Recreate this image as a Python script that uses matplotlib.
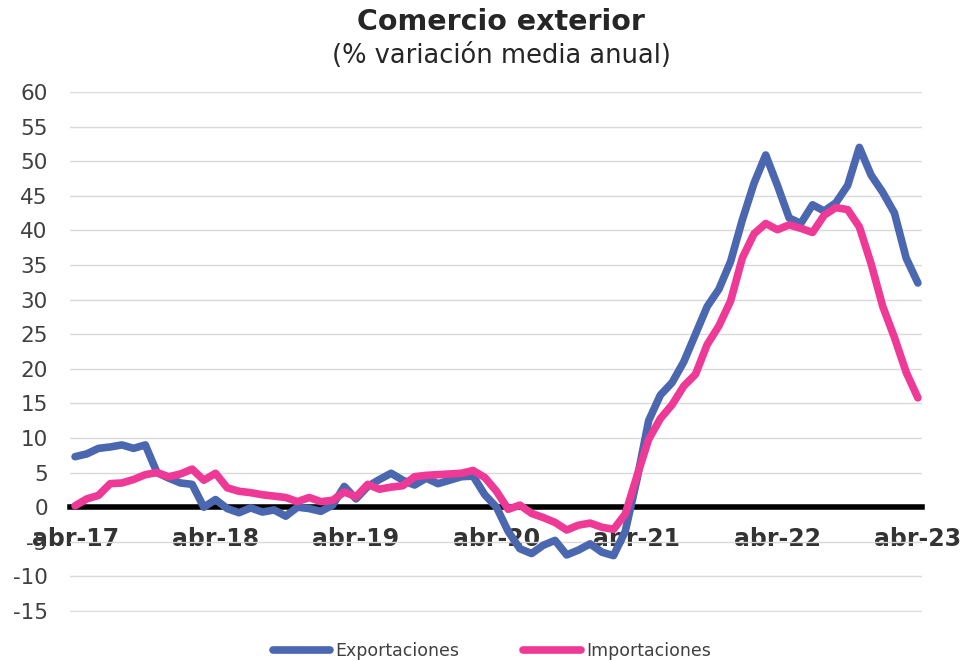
import matplotlib
matplotlib.use("Agg")
import matplotlib.pyplot as plt
import numpy as np

exportaciones = [7.3, 7.7, 8.5, 8.7, 9.0, 8.5, 9.0, 5.0, 4.2, 3.5, 3.3, 0.0,
                 1.1, -0.2, -0.8, -0.1, -0.7, -0.4, -1.3, 0.0, -0.2, -0.6, 0.3, 3.0,
                 1.2, 3.0, 4.0, 4.9, 3.9, 3.2, 4.2, 3.4, 3.9, 4.4, 4.5, 1.8,
                 0.0, -3.5, -6.0, -6.7, -5.5, -4.8, -6.9, -6.2, -5.3, -6.5, -7.0, -3.5,
                 4.0, 12.5, 16.2, 18.0, 21.0, 25.0, 29.0, 31.5, 35.5, 41.5, 46.8, 50.9,
                 46.5, 41.8, 41.0, 43.7, 42.8, 44.0, 46.5, 52.0, 48.0, 45.5, 42.5, 36.0,
                 32.4]
importaciones = [0.2, 1.2, 1.7, 3.4, 3.5, 4.0, 4.7, 5.0, 4.4, 4.8, 5.5, 3.9,
                 4.9, 2.8, 2.3, 2.1, 1.8, 1.6, 1.4, 0.8, 1.4, 0.8, 1.0, 2.2,
                 1.5, 3.3, 2.6, 2.9, 3.1, 4.4, 4.6, 4.7, 4.8, 4.9, 5.3, 4.3,
                 2.3, -0.3, 0.3, -0.9, -1.5, -2.2, -3.3, -2.6, -2.3, -2.9, -3.2, -1.0,
                 4.5, 9.8, 12.8, 14.8, 17.5, 19.2, 23.5, 26.2, 29.8, 36.0, 39.5, 41.0,
                 40.1, 40.8, 40.3, 39.7, 42.2, 43.3, 43.0, 40.5, 35.2, 29.0, 24.5, 19.5,
                 15.8]
tick_labels = ["abr-17", "abr-18", "abr-19", "abr-20", "abr-21", "abr-22", "abr-23"]
y_ticks = list(range(-15, 61, 5))

x = np.arange(len(exportaciones))

fig = plt.figure(figsize=(9.62, 6.6), dpi=100)
ax = fig.add_axes([0.0728, 0.0727, 0.8856, 0.7879])

blue = "#4A67B0"
pink = "#EE3A96"

ax.set_ylim(-15.15, 60)
ax.set_xlim(-0.43, 72.35)
ax.set_yticks(y_ticks)
ax.set_yticklabels([str(v) for v in y_ticks])
ax.grid(axis="y", color="#D9D9D9", linewidth=1.0)
ax.set_axisbelow(True)

ax.plot(x, exportaciones, color=blue, lw=5.5, solid_capstyle="round",
        solid_joinstyle="round", label="Exportaciones", zorder=3)
ax.plot(x, importaciones, color=pink, lw=5.5, solid_capstyle="round",
        solid_joinstyle="round", label="Importaciones", zorder=4)

for s in ["top", "right", "left"]:
    ax.spines[s].set_visible(False)
ax.spines["bottom"].set_position(("data", 0))
ax.spines["bottom"].set_color("black")
ax.spines["bottom"].set_linewidth(4)
ax.spines["bottom"].set_zorder(2)

ax.set_xticks(np.arange(0, 73, 12))
ax.set_xticklabels(tick_labels, fontsize=17, fontweight="bold", color="#333333")
ax.tick_params(axis="x", length=0, pad=14)
ax.tick_params(axis="y", length=0, pad=16, labelsize=15.5, labelcolor="#404040")
for lbl in ax.get_yticklabels():
    lbl.set_horizontalalignment("right")

fig.text(0.521, 0.966, "Comercio exterior", ha="center", va="center",
         fontsize=20.5, fontweight="bold", color="#262626")
fig.text(0.521, 0.915, "(% variación media anual)", ha="center", va="center",
         fontsize=18.5, color="#262626")

leg = fig.legend(loc="center", bbox_to_anchor=(0.511, 0.013), ncol=2, frameon=False,
                 fontsize=12.5, handlelength=3.3, columnspacing=3.7, handletextpad=0.3)
for t in leg.get_texts():
    t.set_color("#404040")
for h in leg.get_lines():
    h.set_linewidth(5.5)

fig.savefig("out.png", dpi=100)
